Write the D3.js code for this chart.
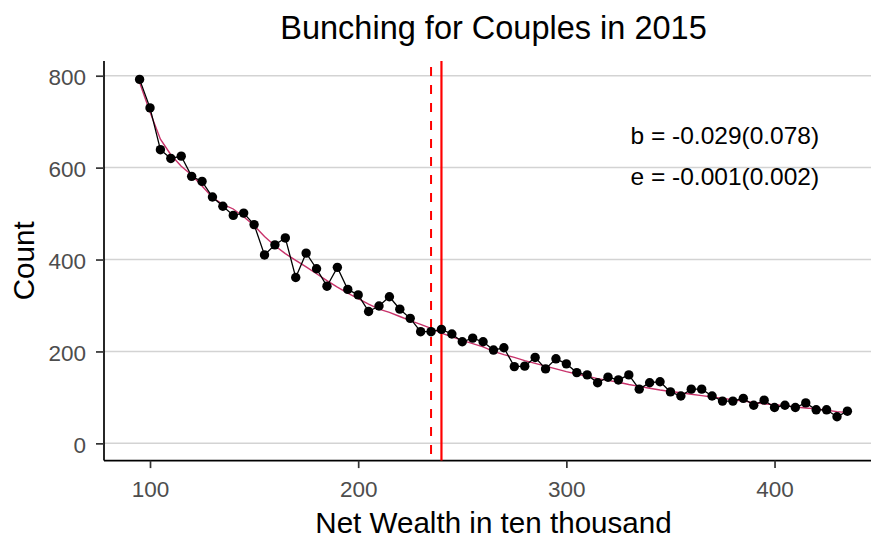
<!DOCTYPE html>
<html>
<head>
<meta charset="utf-8">
<script src="https://cdn.jsdelivr.net/npm/d3@7"></script>
<style>
  html, body { margin: 0; padding: 0; background: #ffffff; }
  svg { display: block; font-family: "Liberation Sans", Arial, sans-serif; }
</style>
</head>
<body>
<svg id="chart" width="871" height="538"></svg>
<script>
// ---- data ----
const wealth = [95,100,105,110,115,120,125,130,135,140,145,150,155,160,165,170,175,180,185,190,
  195,200,205,210,215,220,225,230,235,240,245,250,255,260,265,270,275,280,285,290,
  295,300,305,310,315,320,325,330,335,340,345,350,355,360,365,370,375,380,385,390,
  395,400,405,410,415,420,425,430,435];
const counts = [792,730,639,620,625,581,570,536,516,496,501,476,410,432,447,361,414,380,342,383,
  335,323,287,299,319,292,272,243,243,248,238,221,229,221,203,208,167,168,187,162,
  184,173,154,149,132,144,138,149,118,132,134,112,103,118,118,103,92,92,98,83,
  94,78,83,78,88,73,73,58,70];
const fitted = [785,721,662,628,603,584,560,535,520,510,493,474,450,430,413,398,384,369,354,340,
  327,315,303,292,285,276,267,259,250,240,232,224,217,210,200,193,187,180,174,168,
  162,156,151,146,141,137,133,128,124,120,116,113,110,107,104,101,98,95,92,89,
  86,84,82,79,77,75,72,69,67];
const xTicks = [100,200,300,400];
const yTicks = [0,200,400,600,800];
const notchLine = 240;     // solid red line
const dashLine = 235;      // dashed red line
const annotations = ["b = -0.029(0.078)", "e = -0.001(0.002)"];
const titleText = "Bunching for Couples in 2015";
const xTitle = "Net Wealth in ten thousand";
const yTitle = "Count";

// ---- layout ----
const svg = d3.select("#chart");
const pLeft = 104, pRight = 883, pTop = 61, pBottom = 460.6;

const x = d3.scaleLinear().domain([77.9, 452.1]).range([pLeft, pRight]);
const y = d3.scaleLinear().domain([-37.5, 832]).range([pBottom, pTop]);

// gridlines
svg.append("g").selectAll("line").data(yTicks).join("line")
  .attr("x1", pLeft).attr("x2", pRight)
  .attr("y1", d => y(d)).attr("y2", d => y(d))
  .attr("stroke", "#d3d3d3").attr("stroke-width", 1.5);

// axes
const gx = svg.append("g").attr("transform", `translate(0,${pBottom})`)
  .call(d3.axisBottom(x).tickValues(xTicks).tickSize(7.5).tickPadding(4).tickSizeOuter(0));
const gy = svg.append("g").attr("transform", `translate(${pLeft},0)`)
  .call(d3.axisLeft(y).tickValues(yTicks).tickSize(8).tickPadding(10).tickSizeOuter(0));

[gx, gy].forEach(g => {
  g.select(".domain").attr("stroke", "#000").attr("stroke-width", 1.7);
  g.selectAll(".tick line").attr("stroke", "#333").attr("stroke-width", 1.7);
  g.selectAll(".tick text").attr("fill", "#4d4d4d").attr("font-size", 22.5)
    .attr("font-family", "Liberation Sans, Arial, sans-serif");
});
gx.selectAll(".tick text").attr("y", 20).attr("dy", "0.71em");
gy.selectAll(".tick text").attr("dy", "0.40em");
gy.select(".domain").attr("d", `M0,${pTop}V${pBottom}`);
gx.select(".domain").attr("d", `M${pLeft},0H${pRight}`);

// red reference lines
svg.append("line")
  .attr("x1", x(dashLine)).attr("x2", x(dashLine))
  .attr("y1", pTop).attr("y2", pBottom)
  .attr("stroke", "#ff0000").attr("stroke-width", 2)
  .attr("stroke-dasharray", "9,9").attr("stroke-dashoffset", 12);
svg.append("line")
  .attr("x1", x(notchLine)).attr("x2", x(notchLine))
  .attr("y1", pTop).attr("y2", pBottom)
  .attr("stroke", "#ff0000").attr("stroke-width", 2.2);

// fitted curve
const pts = wealth.map((w, i) => ({w, c: counts[i], f: fitted[i]}));
svg.append("path").datum(pts)
  .attr("fill", "none").attr("stroke", "#c8326a").attr("stroke-width", 1.4)
  .attr("d", d3.line().x(d => x(d.w)).y(d => y(d.f)));

// observed line + points
svg.append("path").datum(pts)
  .attr("fill", "none").attr("stroke", "#000").attr("stroke-width", 1.3)
  .attr("d", d3.line().x(d => x(d.w)).y(d => y(d.c)));
svg.append("g").selectAll("circle").data(pts).join("circle")
  .attr("cx", d => x(d.w)).attr("cy", d => y(d.c)).attr("r", 4.7)
  .attr("fill", "#000");

// annotations
svg.append("g").selectAll("text").data(annotations).join("text")
  .attr("x", 630.5).attr("y", (d, i) => 144 + i * 40.5)
  .attr("font-size", 24.5).attr("fill", "#000")
  .text(d => d);

// titles
svg.append("text").attr("x", (pLeft + pRight) / 2).attr("y", 39)
  .attr("text-anchor", "middle").attr("font-size", 32.5).attr("fill", "#000")
  .text(titleText);
svg.append("text").attr("x", (pLeft + pRight) / 2).attr("y", 533)
  .attr("text-anchor", "middle").attr("font-size", 29.6).attr("fill", "#000")
  .text(xTitle);
svg.append("text")
  .attr("transform", `translate(34,${(pTop + pBottom) / 2}) rotate(-90)`)
  .attr("text-anchor", "middle").attr("font-size", 29.6).attr("fill", "#000")
  .text(yTitle);
</script>
</body>
</html>
